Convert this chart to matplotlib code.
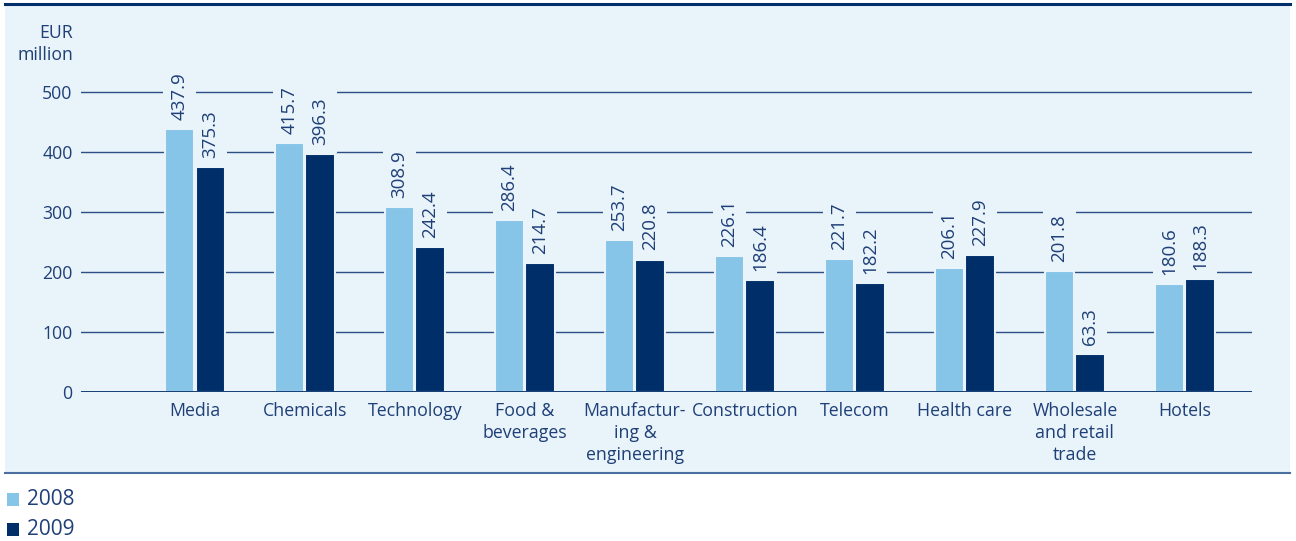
import matplotlib
matplotlib.use('Agg')
from matplotlib import pyplot as plt
from matplotlib.patches import Rectangle
from matplotlib.lines import Line2D
import numpy as np

sectors = ['Media', 'Chemicals', 'Technology', 'Food &\nbeverages',
           'Manufactur-\ning &\nengineering', 'Construction', 'Telecom',
           'Health care', 'Wholesale\nand retail\ntrade', 'Hotels']
values_2008 = [437.9, 415.7, 308.9, 286.4, 253.7, 226.1, 221.7, 206.1, 201.8, 180.6]
values_2009 = [375.3, 396.3, 242.4, 214.7, 220.8, 186.4, 182.2, 227.9, 63.3, 188.3]
y_ticks = [0, 100, 200, 300, 400, 500]

BG = '#E8F3FA'
LIGHT = '#87C5E8'
DARK = '#002E69'
TEXT = '#1F3F77'
GRID = '#2B4F84'

plt.rcParams['font.family'] = ['Open Sans', 'DejaVu Sans']

fig = plt.figure(figsize=(12.96, 5.41), dpi=100)
W, H = 1296, 541

# light blue panel behind the chart, with rules on top and bottom
fig.patches.append(Rectangle((5 / W, 1 - 473 / H), 1285 / W, 469 / H,
                             transform=fig.transFigure, facecolor=BG,
                             edgecolor='none', zorder=-1))
fig.lines.append(Line2D([5 / W, 1290 / W], [1 - 4 / H, 1 - 4 / H],
                        transform=fig.transFigure, color=DARK, lw=2.2))
fig.lines.append(Line2D([5 / W, 1290 / W], [1 - 473 / H, 1 - 473 / H],
                        transform=fig.transFigure, color='#4A6FA0', lw=1.5))

ax = fig.add_axes([81 / W, 1 - 392 / H, (1252 - 81) / W, (392 - 60) / H])
ax.patch.set_visible(False)

x = np.arange(len(sectors))
bw = 0.27
ax.set_xlim(-1.036, len(sectors) - 1 + 0.61)
ax.set_ylim(0, 553.3)

for t in y_ticks[1:]:
    ax.axhline(t, color=GRID, lw=1.0, zorder=1)
ax.axhline(0, color=DARK, lw=2.0, zorder=4)

b1 = ax.bar(x - bw / 2 - 0.005, values_2008, bw, color=LIGHT, edgecolor=BG,
            linewidth=1.5, zorder=2)
b2 = ax.bar(x + bw / 2 + 0.005, values_2009, bw, color=DARK, edgecolor=BG,
            linewidth=1.5, zorder=2)

for bars, vals in ((b1, values_2008), (b2, values_2009)):
    for rect, v in zip(bars, vals):
        ax.annotate(f'{v:.1f}', (rect.get_x() + rect.get_width() / 2, v),
                    xytext=(0, 6.5), textcoords='offset points',
                    rotation=90, ha='center', va='bottom', fontsize=13.5,
                    color=TEXT, zorder=3,
                    bbox=dict(boxstyle='square,pad=0.4', fc=BG, ec='none'))

ax.set_yticks(y_ticks)
ax.set_yticklabels([str(t) for t in y_ticks])
ax.tick_params(axis='y', length=0, pad=6, labelsize=12.7, labelcolor=TEXT)
ax.set_xticks(x)
ax.set_xticklabels(sectors, linespacing=1.28)
ax.tick_params(axis='x', length=0, pad=7, labelsize=12.8, labelcolor=TEXT)
for s in ax.spines.values():
    s.set_visible(False)

fig.text(73 / W, 1 - 44 / H, 'EUR\nmillion', ha='right', va='center',
         fontsize=12.7, color=TEXT, linespacing=1.3)

# legend below the panel
for i, (lab, col) in enumerate((('2008', LIGHT), ('2009', DARK))):
    yc = 499.5 + 30 * i
    fig.patches.append(Rectangle((7 / W, 1 - (yc + 6.5) / H), 12 / W, 13 / H,
                                 transform=fig.transFigure, facecolor=col,
                                 edgecolor='none'))
    fig.text(27 / W, 1 - yc / H, lab, ha='left', va='center', fontsize=15,
             color=TEXT)

fig.savefig('out.png', dpi=100, facecolor='white')
